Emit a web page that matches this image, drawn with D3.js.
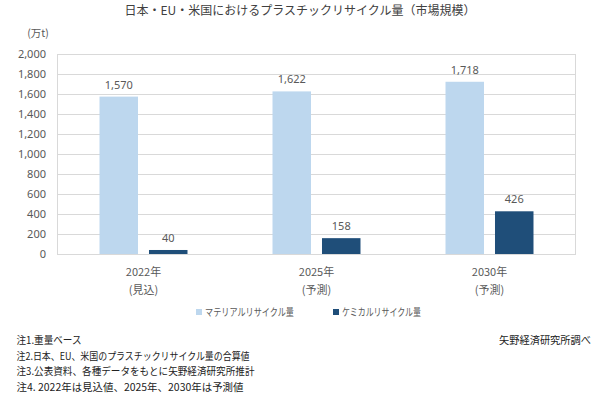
<!DOCTYPE html>
<html><head><meta charset="utf-8">
<script src="https://cdn.jsdelivr.net/npm/d3@7"></script>
<style>
html,body{margin:0;padding:0;background:#fff;}
svg{display:block;font-family:"Noto Sans CJK JP","Noto Sans",sans-serif;}
</style></head>
<body>
<svg id="chart" width="600" height="399"></svg>
<script>
const title = "日本・EU・米国におけるプラスチックリサイクル量（市場規模）";
const unitLabel = "(万t)";
const categories = ["2022年", "2025年", "2030年"];
const categorySub = ["(見込)", "(予測)", "(予測)"];
const seriesNames = ["マテリアルリサイクル量", "ケミカルリサイクル量"];
const materialValues = [1570, 1622, 1718];
const chemicalValues = [40, 158, 426];
const yTicks = [0, 200, 400, 600, 800, 1000, 1200, 1400, 1600, 1800, 2000];
const notes = [
  "注1.重量ベース",
  "注2.日本、EU、米国のプラスチックリサイクル量の合算値",
  "注3.公表資料、各種データをもとに矢野経済研究所推計",
  "注4. 2022年は見込値、2025年、2030年は予測値"
];
const source = "矢野経済研究所調べ";

const colors = ["#BDD7EE", "#1F4E79"];
const noteWidths = [65, 233, 238, 227];
const legendWidths = [89, 79];
const svg = d3.select("#chart");
const m = {left: 57, right: 576, top: 53.5, bottom: 254};

const x0 = d3.scaleBand().domain(categories).range([m.left, m.right]).paddingInner(0).paddingOuter(0);
const x1 = d3.scaleBand().domain(seriesNames).range([0, x0.bandwidth()]).paddingInner(0.222).paddingOuter(0.859);
const y = d3.scaleLinear().domain([0, 2000]).range([m.bottom, m.top]);

// title
svg.append("text").attr("x", 300).attr("y", 15).attr("text-anchor", "middle")
  .attr("font-size", 12).attr("fill", "#404040").text(title);
svg.append("text").attr("x", 38).attr("y", 37).attr("text-anchor", "middle")
  .attr("font-size", 10.5).attr("fill", "#595959").text(unitLabel);

// gridlines
svg.append("g").selectAll("line").data(yTicks).join("line")
  .attr("x1", m.left).attr("x2", m.right)
  .attr("y1", d => Math.round(y(d)) + 0.5).attr("y2", d => Math.round(y(d)) + 0.5)
  .attr("stroke", "#D9D9D9").attr("stroke-width", 1);
// side borders
svg.append("line").attr("x1", m.left + 0.5).attr("x2", m.left + 0.5)
  .attr("y1", Math.round(y(2000)) + 0.5).attr("y2", Math.round(y(0)) + 0.5).attr("stroke", "#D9D9D9");
svg.append("line").attr("x1", m.right - 0.5).attr("x2", m.right - 0.5)
  .attr("y1", Math.round(y(2000)) + 0.5).attr("y2", Math.round(y(0)) + 0.5).attr("stroke", "#D9D9D9");

// y axis
const yAxis = d3.axisLeft(y).tickValues(yTicks).tickFormat(d3.format(",")).tickSize(0).tickPadding(11);
const ga = svg.append("g").attr("transform", `translate(${m.left},0)`).call(yAxis);
ga.select(".domain").remove();
ga.selectAll("text").attr("font-size", 11).attr("fill", "#595959")
  .attr("font-family", "\"Noto Sans\",\"Noto Sans CJK JP\",sans-serif");

// bars
const data = categories.map((c, i) => ({cat: c, vals: [materialValues[i], chemicalValues[i]]}));
const groups = svg.append("g").selectAll("g").data(data).join("g")
  .attr("transform", d => `translate(${x0(d.cat)},0)`);
groups.selectAll("rect").data(d => d.vals.map((v, j) => ({s: seriesNames[j], v, j}))).join("rect")
  .attr("x", d => x1(d.s)).attr("width", x1.bandwidth())
  .attr("y", d => y(d.v)).attr("height", d => y(0) - y(d.v))
  .attr("fill", d => colors[d.j]);
groups.selectAll("text.val").data(d => d.vals.map((v, j) => ({s: seriesNames[j], v, j}))).join("text")
  .attr("class", "val")
  .attr("x", d => x1(d.s) + x1.bandwidth() / 2).attr("y", d => y(d.v) - 8)
  .attr("text-anchor", "middle").attr("font-size", 11).attr("fill", "#595959")
  .attr("font-family", "\"Noto Sans\",\"Noto Sans CJK JP\",sans-serif")
  .text(d => d3.format(",")(d.v));

// x labels
const xl = svg.append("g").selectAll("g").data(categories).join("g");
xl.append("text").attr("x", d => x0(d) + x0.bandwidth() / 2).attr("y", 276)
  .attr("text-anchor", "middle").attr("font-size", 11).attr("fill", "#595959").text(d => d);
xl.append("text").attr("x", d => x0(d) + x0.bandwidth() / 2).attr("y", 294)
  .attr("text-anchor", "middle").attr("font-size", 11).attr("fill", "#595959")
  .text((d, i) => categorySub[i]);

// legend
const legendX = [196, 333];
const lg = svg.append("g").selectAll("g").data(seriesNames).join("g")
  .attr("transform", (d, i) => `translate(${legendX[i]},312)`);
lg.append("rect").attr("x", 0).attr("y", -3).attr("width", 6).attr("height", 6)
  .attr("fill", (d, i) => colors[i]);
lg.append("text").attr("x", 9).attr("y", 4).attr("font-size", 10.5).attr("fill", "#595959")
  .attr("textLength", (d, i) => legendWidths[i]).attr("lengthAdjust", "spacingAndGlyphs")
  .text(d => d);

// notes
svg.append("g").selectAll("text").data(notes).join("text")
  .attr("x", 16.5).attr("y", (d, i) => 344 + i * 15.5)
  .attr("font-size", 10.5).attr("fill", "#222")
  .attr("textLength", (d, i) => noteWidths[i]).attr("lengthAdjust", "spacingAndGlyphs")
  .text(d => d);
svg.append("text").attr("x", 499).attr("y", 344)
  .attr("font-size", 10.5).attr("fill", "#222")
  .attr("textLength", 92).attr("lengthAdjust", "spacingAndGlyphs").text(source);
</script>
</body></html>
